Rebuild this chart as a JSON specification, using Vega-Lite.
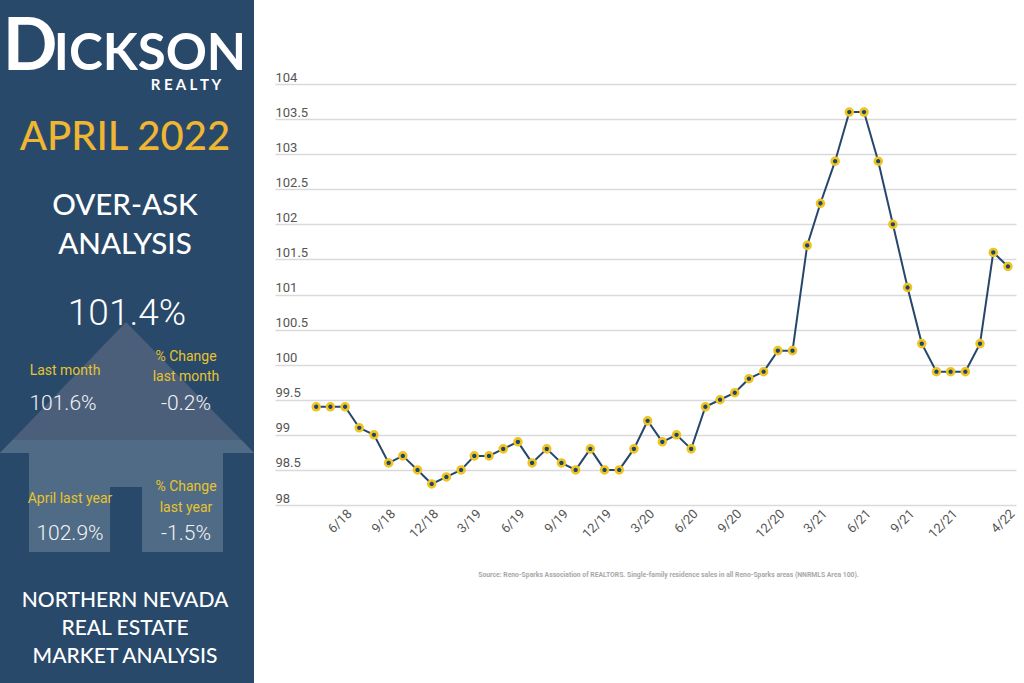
{
"$schema":"https://vega.github.io/schema/vega-lite/v6.json",
"padding":0,
"background":"#ffffff",
"spacing":21,
"bounds":"flush",
"config":{"view":{"stroke":null}},
"datasets":{
"roof":[
{"corner":1,"peak":3,"eave":3},
{"corner":5,"peak":1,"eave":3},
{"corner":9,"peak":3,"eave":3}
],
"band":[
{"corner":1,"peak":3,"eave":3},
{"corner":2,"peak":2,"eave":3},
{"corner":8,"peak":2,"eave":3},
{"corner":9,"peak":3,"eave":3}
],
"walls":[
{"part":"left wall","from":3,"to":4,"top":3,"bottom":5},
{"part":"door lintel","from":4,"to":6,"top":3,"bottom":4},
{"part":"right wall","from":6,"to":7,"top":3,"bottom":5}
],
"logo":[
{"text":"D","col":1,"line":1,"style":"logo large"},
{"text":"ICKSON","col":6,"line":1,"style":"logo"},
{"text":"R E A L T Y","col":7,"line":2,"style":"realty"}
],
"headings":[
{"text":"APRIL 2022","col":5,"line":3,"style":"month"},
{"text":"OVER-ASK","col":5,"line":4,"style":"topic"},
{"text":"ANALYSIS","col":5,"line":5,"style":"topic"},
{"text":"NORTHERN NEVADA","col":5,"line":15,"style":"footer"},
{"text":"REAL ESTATE","col":5,"line":16,"style":"footer"},
{"text":"MARKET ANALYSIS","col":5,"line":17,"style":"footer"}
],
"metrics":[
{"text":"101.4%","col":5,"line":6,"style":"headline"},
{"text":"101.6%","col":2,"line":10,"style":"value"},
{"text":"-0.2%","col":7,"line":10,"style":"value"},
{"text":"102.9%","col":4,"line":14,"style":"value"},
{"text":"-1.5%","col":7,"line":14,"style":"value"}
],
"labels":[
{"text":"% Change","col":7,"line":7},
{"text":"Last month","col":3,"line":8},
{"text":"last month","col":7,"line":9},
{"text":"% Change","col":7,"line":11},
{"text":"April last year","col":4,"line":12},
{"text":"last year","col":7,"line":13}
],
"series":[
{"month":"2018-04-01","pct":99.4},{"month":"2018-05-01","pct":99.4},{"month":"2018-06-01","pct":99.4},{"month":"2018-07-01","pct":99.1},{"month":"2018-08-01","pct":99.0},{"month":"2018-09-01","pct":98.6},{"month":"2018-10-01","pct":98.7},{"month":"2018-11-01","pct":98.5},{"month":"2018-12-01","pct":98.3},
{"month":"2019-01-01","pct":98.4},{"month":"2019-02-01","pct":98.5},{"month":"2019-03-01","pct":98.7},{"month":"2019-04-01","pct":98.7},{"month":"2019-05-01","pct":98.8},{"month":"2019-06-01","pct":98.9},{"month":"2019-07-01","pct":98.6},{"month":"2019-08-01","pct":98.8},{"month":"2019-09-01","pct":98.6},{"month":"2019-10-01","pct":98.5},{"month":"2019-11-01","pct":98.8},{"month":"2019-12-01","pct":98.5},
{"month":"2020-01-01","pct":98.5},{"month":"2020-02-01","pct":98.8},{"month":"2020-03-01","pct":99.2},{"month":"2020-04-01","pct":98.9},{"month":"2020-05-01","pct":99.0},{"month":"2020-06-01","pct":98.8},{"month":"2020-07-01","pct":99.4},{"month":"2020-08-01","pct":99.5},{"month":"2020-09-01","pct":99.6},{"month":"2020-10-01","pct":99.8},{"month":"2020-11-01","pct":99.9},{"month":"2020-12-01","pct":100.2},
{"month":"2021-01-01","pct":100.2},{"month":"2021-02-01","pct":101.7},{"month":"2021-03-01","pct":102.3},{"month":"2021-04-01","pct":102.9},{"month":"2021-05-01","pct":103.6},{"month":"2021-06-01","pct":103.6},{"month":"2021-07-01","pct":102.9},{"month":"2021-08-01","pct":102.0},{"month":"2021-09-01","pct":101.1},{"month":"2021-10-01","pct":100.3},{"month":"2021-11-01","pct":99.9},{"month":"2021-12-01","pct":99.9},
{"month":"2022-01-01","pct":99.9},{"month":"2022-02-01","pct":100.3},{"month":"2022-03-01","pct":101.6},{"month":"2022-04-01","pct":101.4}
]
},
"hconcat":[
{
"width":254,"height":683,
"view":{"fill":"#29496a","stroke":null},
"resolve":{"scale":{"x":"independent","y":"independent","size":"independent","color":"independent"}},
"layer":[
{
"data":{"name":"roof"},
"mark":{"type":"area","color":"#4b5f7a","opacity":1,"interpolate":"linear"},
"encoding":{
"x":{"field":"corner","type":"quantitative","axis":null,"scale":{"domain":[1,2,3,4,5,6,7,8,9],"range":[0,12.5,29,110,126,142,223,241.5,254],"nice":false,"zero":false}},
"y":{"field":"peak","type":"quantitative","axis":null,"scale":{"domain":[1,2,3,4,5],"range":[322,440,453,487,552],"nice":false,"zero":false}},
"y2":{"field":"eave"}
}
},
{
"data":{"name":"band"},
"mark":{"type":"area","color":"#506b85","opacity":1,"interpolate":"linear"},
"encoding":{
"x":{"field":"corner","type":"quantitative","axis":null,"scale":{"domain":[1,2,3,4,5,6,7,8,9],"range":[0,12.5,29,110,126,142,223,241.5,254],"nice":false,"zero":false}},
"y":{"field":"peak","type":"quantitative","axis":null,"scale":{"domain":[1,2,3,4,5],"range":[322,440,453,487,552],"nice":false,"zero":false}},
"y2":{"field":"eave"}
}
},
{
"data":{"name":"walls"},
"mark":{"type":"rect","color":"#506b85"},
"encoding":{
"x":{"field":"from","type":"quantitative","axis":null,"scale":{"domain":[1,2,3,4,5,6,7,8,9],"range":[0,12.5,29,110,126,142,223,241.5,254],"nice":false,"zero":false}},
"x2":{"field":"to"},
"y":{"field":"top","type":"quantitative","axis":null,"scale":{"domain":[1,2,3,4,5],"range":[322,440,453,487,552],"nice":false,"zero":false}},
"y2":{"field":"bottom"}
}
},
{
"data":{"name":"logo"},
"mark":{"type":"text","font":"Lato","fontWeight":700,"align":"center","baseline":"alphabetic","color":"#ffffff"},
"encoding":{
"x":{"field":"col","type":"quantitative","axis":null,"scale":{"domain":[1,2,3,4,5,6,7],"range":[30,63,65,70,125,150,186],"nice":false,"zero":false}},
"y":{"field":"line","type":"quantitative","axis":null,"scale":{"domain":[1,2,3,4,5,6,7,8,9,10,11,12,13,14,15,16,17],"range":[70,90,150,215,254,325,361,375,381,410,491,503,512,540,607,635,663],"nice":false,"zero":false}},
"text":{"field":"text"},
"size":{"field":"style","type":"nominal","legend":null,"scale":{"type":"ordinal","domain":["logo large","logo","realty"],"range":[72,51,15]}}
}
},
{
"data":{"name":"headings"},
"mark":{"type":"text","font":"Lato","fontWeight":500,"align":"center","baseline":"alphabetic"},
"encoding":{
"x":{"field":"col","type":"quantitative","axis":null,"scale":{"domain":[1,2,3,4,5,6,7],"range":[27,63,65,70,125,150,186],"nice":false,"zero":false}},
"y":{"field":"line","type":"quantitative","axis":null,"scale":{"domain":[1,2,3,4,5,6,7,8,9,10,11,12,13,14,15,16,17],"range":[70,90,150,215,254,325,361,375,381,410,491,503,512,540,607,635,663],"nice":false,"zero":false}},
"text":{"field":"text"},
"size":{"field":"style","type":"nominal","legend":null,"scale":{"type":"ordinal","domain":["month","topic","footer"],"range":[40,29.5,21]}},
"color":{"field":"style","type":"nominal","legend":null,"scale":{"domain":["month","topic","footer"],"range":["#eeb632","#ffffff","#ffffff"]}}
}
},
{
"data":{"name":"metrics"},
"mark":{"type":"text","font":"Roboto","fontWeight":300,"align":"center","baseline":"alphabetic"},
"encoding":{
"x":{"field":"col","type":"quantitative","axis":null,"scale":{"domain":[1,2,3,4,5,6,7],"range":[27,63,65,70,127,150,186],"nice":false,"zero":false}},
"y":{"field":"line","type":"quantitative","axis":null,"scale":{"domain":[1,2,3,4,5,6,7,8,9,10,11,12,13,14,15,16,17],"range":[70,90,150,215,254,325,361,375,381,410,491,503,512,540,607,635,663],"nice":false,"zero":false}},
"text":{"field":"text"},
"size":{"field":"style","type":"nominal","legend":null,"scale":{"type":"ordinal","domain":["headline","value"],"range":[37,21]}},
"color":{"field":"style","type":"nominal","legend":null,"scale":{"domain":["headline","value"],"range":["#ffffff","#f2f4f6"]}}
}
},
{
"data":{"name":"labels"},
"mark":{"type":"text","font":"Roboto","fontWeight":400,"fontSize":14,"color":"#e6c42f","align":"center","baseline":"alphabetic"},
"encoding":{
"x":{"field":"col","type":"quantitative","axis":null,"scale":{"domain":[1,2,3,4,5,6,7],"range":[27,63,65,70,125,150,186],"nice":false,"zero":false}},
"y":{"field":"line","type":"quantitative","axis":null,"scale":{"domain":[1,2,3,4,5,6,7,8,9,10,11,12,13,14,15,16,17],"range":[70,90,150,215,254,325,361,375,381,410,491,503,512,540,607,635,663],"nice":false,"zero":false}},
"text":{"field":"text"}
}
}
]
},
{
"width":741,"height":683,
"data":{"name":"series"},
"encoding":{
"x":{"field":"month","type":"temporal","scale":{"type":"utc","domain":["2018-01-04","2022-04-18"],"nice":false},
"axis":{"values":["2018-06-01","2018-09-01","2018-12-01","2019-03-01","2019-06-01","2019-09-01","2019-12-01","2020-03-01","2020-06-01","2020-09-01","2020-12-01","2021-03-01","2021-06-01","2021-09-01","2021-12-01","2022-04-01"],
"labelExpr":"utcFormat(datum.value,'%-m/%y')",
"title":"Source: Reno-Sparks Association of REALTORS. Single-family residence sales in all Reno-Sparks areas (NNRMLS Area 100).",
"titleFont":"Roboto","titleFontSize":6.8,"titleFontWeight":"bold","titleColor":"#a8a8a8","titleX":393,"titleY":66,"titleAlign":"center",
"offset":-178,"domain":false,"ticks":false,"grid":false,"labelAngle":-45,"labelFont":"Roboto","labelFontSize":13,"labelColor":"#555555","labelPadding":2,"labelOverlap":false,"labelBound":false,"labelFlush":false}},
"y":{"field":"pct","type":"quantitative","scale":{"domain":[98,104],"range":[505,84],"nice":false,"zero":false},
"axis":{"values":[98,98.5,99,99.5,100,100.5,101,101.5,102,102.5,103,103.5,104],"format":"~g","title":null,"domain":false,"ticks":false,"grid":true,"gridColor":"#dadada","gridWidth":1.5,"labelAlign":"left","labelBaseline":"alphabetic","labelPadding":0,"labelOffset":-3,"labelFont":"Roboto","labelFontSize":13,"labelColor":"#555555","labelBound":false,"labelFlush":false,"labelOverlap":false}}
},
"layer":[
{"mark":{"type":"line","color":"#26476b","strokeWidth":2}},
{"mark":{"type":"point","filled":false,"fill":"#1c4571","fillOpacity":1,"stroke":"#f0c41f","strokeWidth":2.6,"opacity":1,"size":48}}
]
}
]
}
